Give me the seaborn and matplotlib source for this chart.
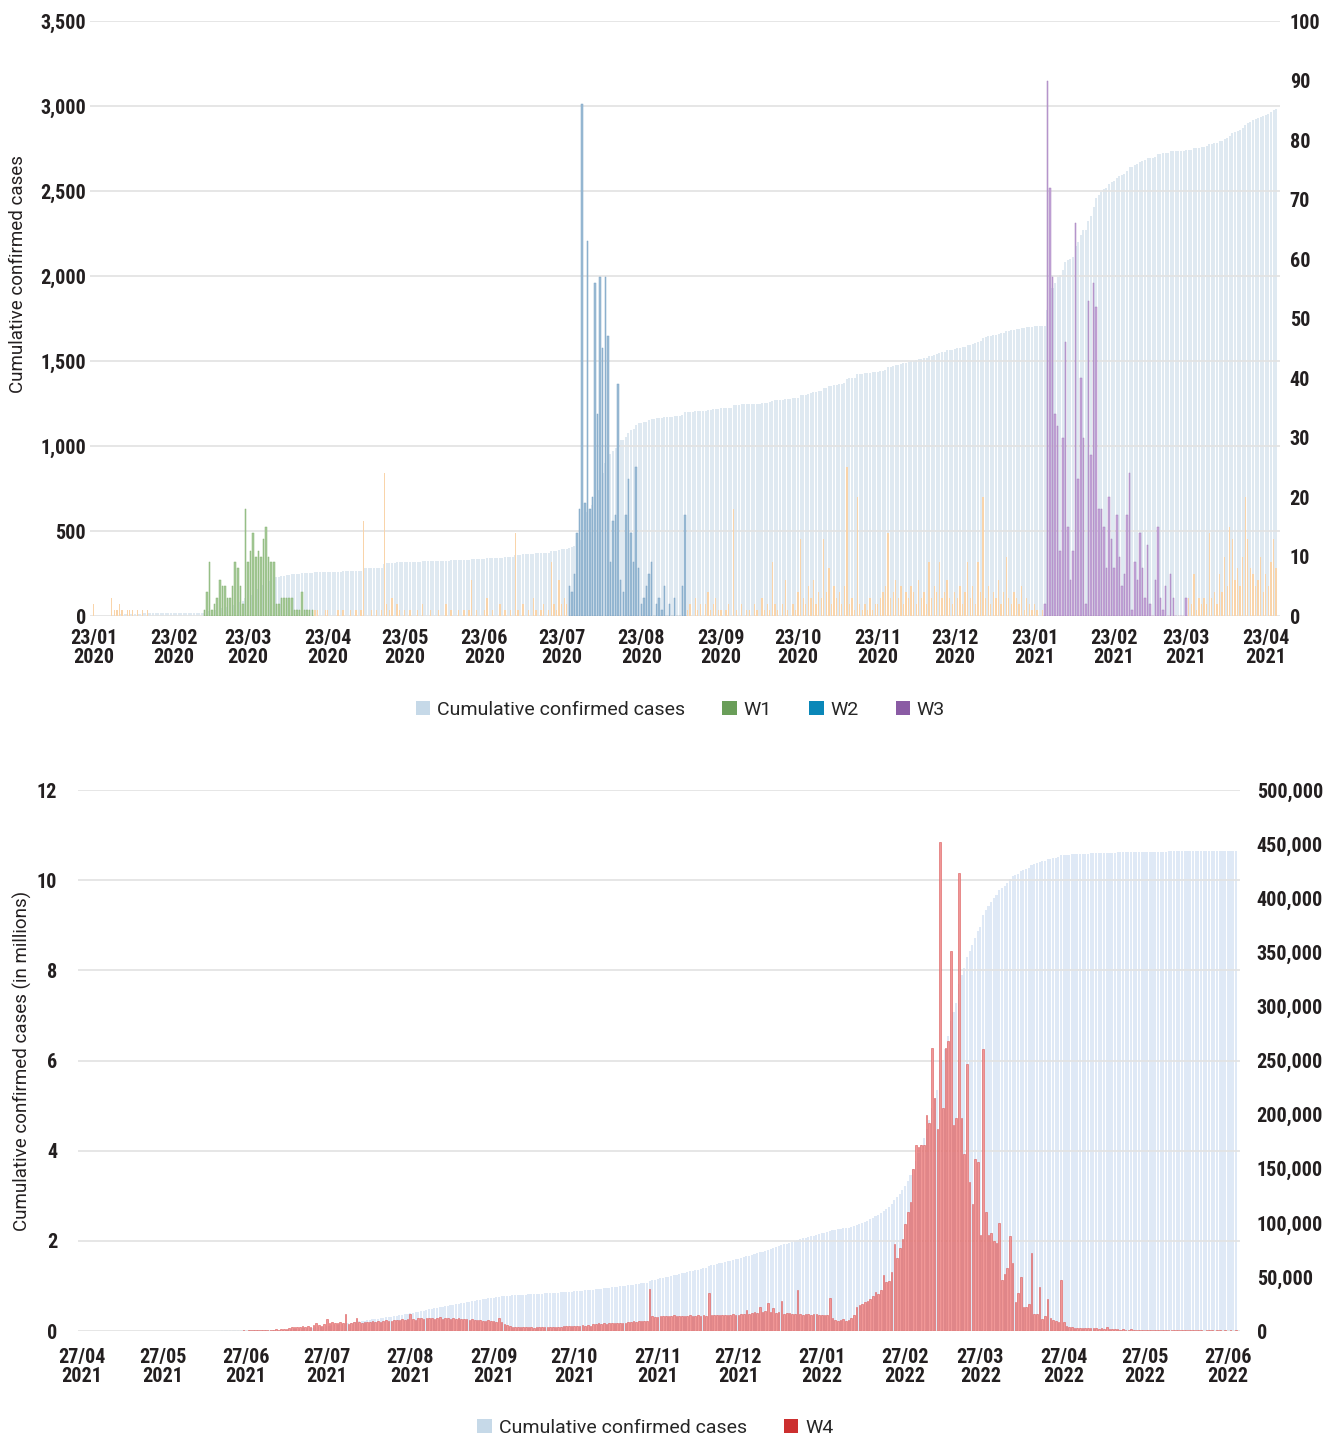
"""
Daily and cumulative confirmed COVID-19 cases, two periods.
Top: 23/01/2020 - 27/04/2021 (waves W1-W3), bottom: 27/04/2021 - 30/06/2022 (W4).
Cumulative bars on the left axis, daily new cases on the right axis.
"""

import numpy as np
import pandas as pd
import matplotlib
matplotlib.use("Agg")
import matplotlib.pyplot as plt
import seaborn as sns
from matplotlib.patches import Patch
from matplotlib.ticker import FuncFormatter
from matplotlib import font_manager as fm

# ----- data, top panel: daily new cases, one value per day from 23/01/2020 -----
TOP_START = "2020-01-23"

pre_w1 = [2, 0, 0, 0, 0, 0, 0, 3, 1, 1, 2, 1, 0, 1, 1, 1, 0, 1, 0, 1, 0, 1,
          0, 0, 0, 0, 0, 0, 0, 0, 0, 0, 0, 0, 0, 0, 0, 0, 0, 0, 0, 0, 0]
w1 = [1, 4, 9, 1, 2, 3, 6, 5, 5, 3, 3, 5, 9, 8, 5, 2, 18, 9, 11, 14, 10, 11,
      10, 13, 15, 10, 9, 9, 2, 2, 3, 3, 3, 3, 3, 1, 1, 1, 4, 1, 1, 1, 1]
mid_1 = [1, 1, 0, 0, 1, 1, 0, 0, 0, 1, 0, 1, 0, 0, 1, 0, 1, 0, 1,
         16, 0, 0, 1, 0, 1, 0, 1, 24, 2, 1, 3, 0, 2, 1, 0, 1,
         0, 1, 0, 0, 1, 0, 2, 0, 0, 1, 0, 0, 1, 0, 0, 2, 0, 1, 0, 0, 1, 0, 1, 0, 1,
         6, 0, 1, 0, 0, 1, 3, 0, 1, 0, 0, 2, 0, 1, 0, 1, 0,
         14, 1, 0, 2, 0, 1, 0, 3, 1, 0, 1, 2, 0, 1, 9, 2, 1, 6, 2, 3, 2]
w2 = [5, 4, 7, 14, 18, 86, 19, 63, 18, 20, 56, 34, 57, 45, 57, 47, 9, 16, 17,
      39, 6, 4, 17, 23, 14, 9, 25, 8, 2, 3, 5, 7, 9, 0, 2, 3, 1, 5, 0, 2, 0,
      3, 0, 0, 5, 17]
mid_2 = [1, 2, 0, 3, 1, 2, 0, 2, 4, 1, 2, 3, 1,
         1, 0, 1, 2, 0, 18, 1, 0, 2, 0, 1, 1, 0, 2, 1, 0, 3, 1, 2, 1, 9, 2, 1, 0, 2, 6, 1, 0, 2, 1,
         4, 13, 3, 2, 5, 3, 6, 2, 4, 3, 13, 4, 8, 2, 5, 3, 4, 2, 5,
         25, 2, 3, 1, 20, 2, 1, 2, 1, 3, 1, 2, 2,
         3, 4, 5, 14, 3, 4, 6, 3, 5, 2, 4, 3, 5, 4, 2, 6, 3, 4, 2, 9, 3, 5, 4, 9, 3, 4, 6, 3, 2, 4,
         3, 5, 2, 4, 9, 3, 5, 2, 9, 4, 20, 3, 5, 2, 4, 3, 6, 2, 4, 10, 3, 2, 4, 3, 2, 5, 1, 3, 2, 1, 2,
         1, 0, 1]
w3 = [2, 90, 72, 57, 34, 32, 11, 30, 46, 15, 6, 11, 66, 23, 40, 30, 2, 53, 27,
      56, 52, 18, 18, 15, 8, 20, 13, 8, 17, 10, 5, 7, 17, 24, 1, 9, 6, 14, 8,
      3, 12, 2, 0, 6, 15, 3, 1, 5, 0, 7, 3, 0, 0, 0, 0, 3]
post_w3 = [3, 2, 7, 1, 3, 2, 3, 2, 14, 3, 4, 2, 7, 4, 10, 5, 15, 13, 6, 8, 5,
           10, 20, 13, 8, 7, 5, 6, 10, 4, 7, 5, 9, 13, 8]

top_segments = [("other", pre_w1), ("W1", w1), ("other", mid_1), ("W2", w2),
                ("other", mid_2), ("W3", w3), ("other", post_w3)]

# ----- data, bottom panel: daily new cases (thousands) from 27/04/2021 -----
BOTTOM_START = "2021-04-27"
BOTTOM_CUM_BASE_M = 0.0029   # cumulative cases (millions) before 27/04/2021

w4_apr_may = [0.0, 0.0, 0.0, 0.0, 0.1, 0.0, 0.0, 0.0, 0.1, 0.1, 0.1, 0.1, 0.1, 0.1, 0.2, 0.2,
              0.1, 0.1, 0.2, 0.1, 0.2, 0.2, 0.1, 0.2, 0.2, 0.1, 0.2, 0.1, 0.2, 0.1, 0.2]
w4_may_jun = [0.2, 0.2, 0.3, 0.2, 0.3, 0.2, 0.2, 0.3, 0.2, 0.3, 0.2, 0.3, 0.3, 0.2, 0.4,
              0.3, 0.2, 0.3, 0.4, 0.3, 0.4, 0.3, 0.3, 0.4, 0.5, 0.4, 0.4, 0.5, 0.5, 0.6]
w4_jun_jul = [0.5, 0.6, 0.7, 0.6, 0.8, 0.9, 0.8, 1.0, 1.2, 1.1, 1.3, 1.5, 1.4, 1.6, 1.8,
              2.0, 3.2, 3.6, 3.9, 4.2, 3.8, 4.4, 4.1, 4.6, 4.0, 5.2, 7.0, 5.5, 4.8, 6.3]
w4_jul_aug = [10.8, 7.5, 8.6, 7.0, 7.8, 8.4, 7.2, 16.0, 6.5, 7.5, 8.2, 12.3, 8.2, 7.8, 8.0,
              8.8, 8.4, 9.0, 8.2, 9.5, 8.6, 9.2, 10.0, 9.6, 9.0, 10.5, 9.8, 10.2, 11.0, 10.6, 11.2]
w4_aug_sep = [15.4, 11.0, 10.5, 11.8, 12.0, 11.5, 12.2, 11.8, 12.5, 11.6, 12.0, 13.0, 11.4,
              12.2, 11.8, 11.5, 12.0, 11.2, 11.8, 10.8, 11.0, 11.5, 10.5, 10.8, 10.2, 9.8,
              10.0, 9.5, 9.2, 9.8, 9.0]
w4_sep_oct = [9.4, 8.8, 11.7, 8.0, 6.5, 5.5, 4.6, 4.2, 4.0, 3.8, 4.1, 3.6, 3.5, 3.9, 3.4,
              3.2, 3.6, 3.3, 3.8, 3.5, 3.7, 3.4, 4.0, 3.6, 4.2, 4.0, 4.5, 4.3, 4.8, 4.6]
w4_oct_nov = [4.7, 5.0, 4.8, 5.2, 4.9, 5.3, 5.0, 6.2, 6.5, 7.0, 6.8, 7.2, 6.9, 7.4, 7.1,
              7.3, 7.6, 7.0, 7.8, 7.5, 8.0, 8.6, 9.0, 8.8, 9.2, 9.0, 9.5, 9.3, 39.0, 13.5, 12.8]
w4_nov_dec = [13.2, 13.8, 14.0, 13.5, 14.2, 13.8, 14.5, 14.0, 13.6, 14.3, 14.1, 13.9, 14.6,
              14.2, 14.0, 14.5, 14.3, 14.8, 14.1, 34.8, 14.6, 15.0, 14.4, 14.9, 15.2, 14.7,
              15.0, 14.8, 15.3, 15.1]
w4_dec_jan = [15.0, 15.6, 16.2, 19.4, 16.0, 16.8, 17.2, 16.5, 22.5, 17.8, 18.2, 25.5, 17.5,
              20.9, 16.8, 17.2, 27.7, 16.0, 16.3, 16.8, 15.5, 15.8, 37.8, 15.6, 15.2, 15.8,
              15.4, 15.0, 15.6, 15.3, 14.8]
w4_jan_feb = [15.0, 14.5, 15.0, 30.8, 12.0, 10.0, 9.5]
w4_feb_apr = [10, 11, 9, 10, 12, 14.5, 22, 24, 25, 27, 28, 30, 32, 36, 34, 38, 52, 45.7,
              46, 55, 80, 67.5, 77, 85, 98.6, 110, 119, 150, 172, 170, 172, 172, 200, 192,
              262, 215, 187, 452, 206, 262, 268, 351, 190, 197, 423, 197, 164, 247, 138,
              117, 159, 156, 89, 261, 110, 89, 91, 83, 81.5, 100, 47, 53, 58, 88, 63, 27,
              35, 50, 22, 22, 25, 72, 16, 16, 41, 11, 14, 30, 12, 10, 9, 8, 47, 8, 5, 4,
              3.5, 3.2, 3.0]
w4_apr_jun = [3.2, 2.8, 3.0, 2.6, 2.9, 2.4, 2.7, 2.2, 2.5, 2.0, 3.4,
              1.8, 1.6, 1.9, 1.5, 1.4, 1.7, 1.3, 1.2, 1.5, 1.1, 1.3, 1.0, 1.2, 0.9, 1.1,
              1.0, 0.9, 1.2, 0.8, 1.0, 0.9,
              0.8, 0.9, 0.7, 0.8, 0.9, 0.7, 0.6, 0.8, 0.7, 0.6, 0.7, 0.8, 0.6, 0.7, 0.5,
              0.6, 0.7, 0.6, 0.5, 0.6, 0.7, 0.5, 0.6, 0.5, 0.6, 0.5, 0.6]

w4_parts = [w4_apr_may, w4_may_jun, w4_jun_jul, w4_jul_aug, w4_aug_sep, w4_sep_oct,
            w4_oct_nov, w4_nov_dec, w4_dec_jan, w4_jan_feb, w4_feb_apr, w4_apr_jun]

# ----- colours -----
TOP_CUM_COLOR = "#dfe9f1"
BOT_CUM_COLOR = "#dfe9f6"
WAVE_STYLE = {           # face, edge, bar width, edge width
    "other": ("#f9d4aa", "none", 0.5, 0.0),
    "W1":    ("#a7ca98", "#86b374", 0.6, 0.35),
    "W2":    ("#9dbdd6", "#7ba3c4", 0.6, 0.35),
    "W3":    ("#c6a6da", "#a582bd", 0.6, 0.35),
    "W4":    ("#f09797", "#dc5a5a", 0.6, 0.4),
}
LEGEND_COLORS = {"Cumulative confirmed cases": "#c6d9e8", "W1": "#6a9e59",
                 "W2": "#0a87b8", "W3": "#8a5ba4", "W4": "#cc2f2f"}
TEXT = "#231f20"
GRID = "#e2e2e2"

# ----- fonts -----
sns.set_theme(style="white")
names = {f.name for f in fm.fontManager.ttflist}
NARROW = next((n for n in ["Liberation Sans Narrow", "Roboto Condensed",
                           "DejaVu Sans Condensed"] if n in names), "Roboto")
plt.rcParams["font.family"] = [NARROW, "DejaVu Sans"]
LABEL_FONT = ["Roboto", "DejaVu Sans"]

# ----- assemble series -----
top_daily = np.concatenate([np.asarray(v, float) for _, v in top_segments])
top_wave = np.concatenate([[w] * len(v) for w, v in top_segments])
top_day = np.arange(len(top_daily))
top_cum = np.cumsum(top_daily)

bot_daily = np.concatenate([np.asarray(v, float) for v in w4_parts]) * 1000
bot_day = np.arange(len(bot_daily))
bot_cum_m = BOTTOM_CUM_BASE_M + np.cumsum(bot_daily) / 1e6


def month_ticks(start, n):
    t0 = pd.Timestamp(start)
    dates = [t0 + pd.DateOffset(months=i) for i in range(n)]
    return [(d - t0).days for d in dates], [d.strftime("%d/%m\n%Y") for d in dates]


def daily_bars(ax, x, y, wave):
    face, edge, width, lw = WAVE_STYLE[wave]
    sns.barplot(x=x, y=y, native_scale=True, color=face, edgecolor=edge,
                linewidth=lw, saturation=1, width=width, errorbar=None, ax=ax)


comma = FuncFormatter(lambda v, pos: f"{v:,.0f}")

fig = plt.figure(figsize=(13.29, 14.41), dpi=100)

# ----- top panel -----
ax_t = fig.add_axes([0.0677, 0.5725, 0.8954, 0.4129])
ax_tr = ax_t.twinx()

sns.barplot(x=top_day, y=top_cum, native_scale=True, color=TOP_CUM_COLOR,
            saturation=1, width=0.78, linewidth=0, errorbar=None, ax=ax_t)
for wave in ["other", "W1", "W2", "W3"]:
    m = top_wave == wave
    daily_bars(ax_tr, top_day[m], top_daily[m], wave)

ax_t.set_ylim(0, 3500)
ax_tr.set_ylim(0, 100)
ax_t.set_yticks(np.arange(0, 3501, 500))
ax_t.yaxis.set_major_formatter(comma)
ax_tr.set_yticks(np.arange(0, 101, 10))
ax_t.set_xlim(-1.5, 461.5)
pos, labs = month_ticks(TOP_START, 16)
ax_t.set_xticks(pos)
ax_t.set_xticklabels(labs, fontweight="bold", linespacing=1.05)

# ----- bottom panel -----
ax_b = fig.add_axes([0.0587, 0.0763, 0.8743, 0.3754])
ax_br = ax_b.twinx()

sns.barplot(x=bot_day, y=bot_cum_m, native_scale=True, color=BOT_CUM_COLOR,
            saturation=1, width=0.78, linewidth=0, errorbar=None, ax=ax_b)
daily_bars(ax_br, bot_day, bot_daily, "W4")

ax_b.set_ylim(0, 12)
ax_br.set_ylim(0, 500000)
ax_b.set_yticks(np.arange(0, 13, 2))
ax_br.set_yticks(np.arange(0, 500001, 50000))
ax_br.yaxis.set_major_formatter(comma)
ax_b.set_xlim(-1.5, 430.5)
pos, labs = month_ticks(BOTTOM_START, 15)
ax_b.set_xticks(pos)
ax_b.set_xticklabels(labs, fontweight="bold", linespacing=1.05)

# ----- shared styling -----
for ax in [ax_t, ax_tr, ax_b, ax_br]:
    for s in ax.spines.values():
        s.set_visible(False)
    ax.set_xlabel("")
    ax.set_ylabel("")
    ax.tick_params(length=0, labelsize=14.5, colors=TEXT)
    for lab in ax.get_yticklabels():
        lab.set_fontweight("bold")
    ax.grid(False)

for ax in [ax_t, ax_b]:
    ax.yaxis.grid(True, color=GRID, linewidth=1.2)
    ax.set_axisbelow(False)
ax_t.tick_params(axis="y", pad=3)
ax_t.tick_params(axis="x", pad=9)
ax_tr.tick_params(axis="y", pad=7)
ax_b.tick_params(axis="y", pad=15)
ax_b.tick_params(axis="x", pad=12)
ax_br.tick_params(axis="y", pad=12)

fig.text(0.0135, 0.81, "Cumulative confirmed cases", rotation=90, ha="center",
         va="center", fontsize=13.5, color=TEXT, family=LABEL_FONT)
fig.text(0.0165, 0.2637, "Cumulative confirmed cases (in millions)", rotation=90,
         ha="center", va="center", fontsize=13.5, color=TEXT, family=LABEL_FONT)

# ----- legends -----
def handles(keys):
    return [Patch(facecolor=LEGEND_COLORS[k], edgecolor="none", label=k) for k in keys]

leg_kw = dict(loc="center", frameon=False, handlelength=0.75, handleheight=0.75,
              handletextpad=0.35, columnspacing=1.9, borderaxespad=0,
              prop={"family": LABEL_FONT, "size": 14})
fig.legend(handles=handles(["Cumulative confirmed cases", "W1", "W2", "W3"]), ncol=4,
           bbox_to_anchor=(0.512, 1 - 710 / 1441), **leg_kw)
fig.legend(handles=handles(["Cumulative confirmed cases", "W4"]), ncol=2,
           bbox_to_anchor=(0.493, 1 - 1428 / 1441), **leg_kw)

fig.savefig("out.png", dpi=100, facecolor="white")
